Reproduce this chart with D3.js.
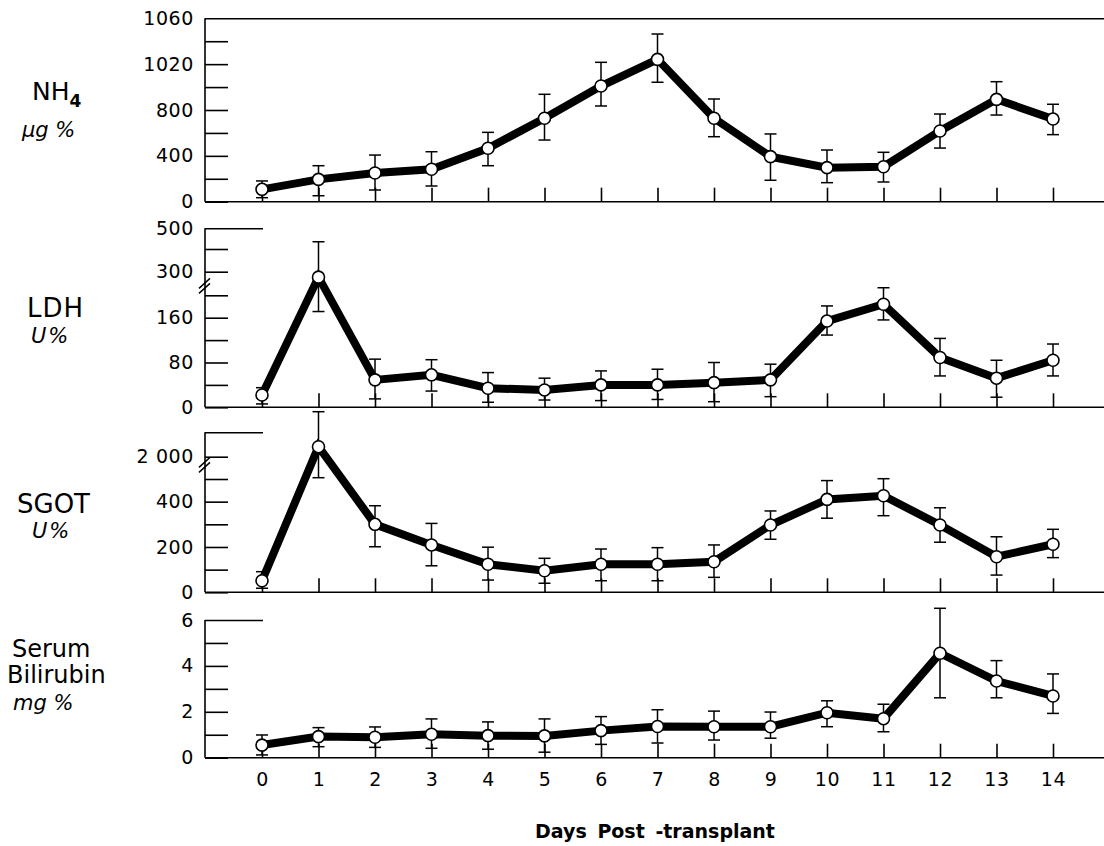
<!DOCTYPE html>
<html>
<head>
<meta charset="utf-8">
<script src="https://cdn.jsdelivr.net/npm/d3@7"></script>
<style>
  body { margin: 0; background: #fff; }
  svg { display: block; }
  .axis text { font-family: "DejaVu Sans", sans-serif; font-size: 19px; letter-spacing: 0.6px; fill: #000; }
  .axis line, .axis path { stroke: #000; stroke-width: 1.6px; }
  .lbl { font-family: "DejaVu Sans", sans-serif; fill: #000; }
</style>
</head>
<body>
<script>
// Days post-transplant
const days = [0, 1, 2, 3, 4, 5, 6, 7, 8, 9, 10, 11, 12, 13, 14];
const dayLabels = ["0", "1", "2", "3", "4", "5", "6", "7", "8", "9", "10", "11", "12", "13", "14"];

// NH4, µg %  (values in axis units, tick labels as printed)
const nh4Mean = [108, 195, 250, 283, 466, 728, 1009, 1242, 728, 393, 297, 305, 617, 893, 721];
const nh4Hi   = [181, 314, 407, 436, 605, 937, 1216, 1463, 896, 591, 451, 431, 765, 1047, 850];
const nh4Lo   = [35, 52, 102, 137, 314, 538, 835, 1042, 567, 187, 166, 172, 468, 756, 585];
const nh4Ticks  = [0, 200, 400, 600, 800, 1000, 1200, 1400, 1600];
const nh4Labels = ["0", "", "400", "", "800", "", "1020", "", "1060"];

// LDH, U %
const ldhMean = [22, 277, 49, 58, 34, 31, 40, 40, 44, 49, 154, 184, 89, 52, 84];
const ldhHi   = [35, 435, 86, 85, 62, 52, 65, 68, 80, 77, 181, 232, 123, 84, 113];
const ldhLo   = [6, 171, 15, 29, 9, 13, 12, 14, 10, 19, 129, 156, 56, 18, 56];
const ldhTicks  = [0, 40, 80, 120, 160, 200, 300, 400, 500];
const ldhLabels = ["0", "", "80", "", "160", "", "300", "", "500"];

// SGOT, U %
const sgotMean = [51, 2410, 300, 209, 124, 95, 124, 124, 135, 297, 410, 426, 297, 157, 212];
const sgotHi   = [91, 3844, 382, 304, 199, 150, 191, 197, 209, 359, 493, 520, 373, 245, 278];
const sgotLo   = [18, 587, 201, 117, 54, 40, 51, 51, 66, 234, 327, 338, 221, 76, 153];
const sgotTicks  = [0, 100, 200, 300, 400, 500, 2000, 3000];
const sgotLabels = ["0", "", "200", "", "400", "", "2 000", ""];

// Serum bilirubin, mg %
const bilMean = [0.55, 0.92, 0.89, 1.02, 0.96, 0.95, 1.18, 1.36, 1.35, 1.35, 1.96, 1.70, 4.55, 3.34, 2.69];
const bilHi   = [0.99, 1.31, 1.34, 1.69, 1.56, 1.69, 1.79, 2.09, 2.03, 1.99, 2.48, 2.33, 6.51, 4.23, 3.65];
const bilLo   = [0.12, 0.48, 0.45, 0.41, 0.37, 0.24, 0.58, 0.64, 0.77, 0.85, 1.35, 1.13, 2.61, 2.61, 1.93];
const bilTicks  = [0, 1, 2, 3, 4, 5, 6];
const bilLabels = ["0", "", "2", "", "4", "", "6"];

const W = 1104, H = 846;
const axisX = 205, rightEdge = 1104;

const svg = d3.select("body").append("svg")
    .attr("width", W)
    .attr("height", H);

const x = d3.scaleLinear().domain([0, 14]).range([262, 1053]);

const panels = [
  { mean: nh4Mean, hi: nh4Hi, lo: nh4Lo, ticks: nh4Ticks, labels: nh4Labels,
    y: d3.scaleLinear().domain([0, 1600]).range([201.7, 18.3]), topFull: true },
  { mean: ldhMean, hi: ldhHi, lo: ldhLo, ticks: ldhTicks, labels: ldhLabels,
    y: d3.scaleLinear().domain([0, 200, 300, 400, 500]).range([407.3, 295.3, 271.7, 249, 228.3]),
    breakAt: 240 },
  { mean: sgotMean, hi: sgotHi, lo: sgotLo, ticks: sgotTicks, labels: sgotLabels,
    y: d3.scaleLinear().domain([0, 500, 2000, 3000]).range([592.3, 479, 456.7, 432.3]),
    breakAt: 1450 },
  { mean: bilMean, hi: bilHi, lo: bilLo, ticks: bilTicks, labels: bilLabels,
    y: d3.scaleLinear().domain([0, 6]).range([757.7, 620]), xLabels: true }
];

panels.forEach(drawPanel);

function drawPanel(p) {
  const y = p.y;
  const base = y(0);
  const top = y(p.ticks[p.ticks.length - 1]);

  // y axis, ticks pointing inward
  const gy = svg.append("g")
      .attr("class", "axis")
      .attr("transform", `translate(${axisX},0)`)
      .call(d3.axisLeft(y)
        .tickValues(p.ticks)
        .tickSizeInner(-23)
        .tickSizeOuter(0)
        .tickPadding(11)
        .tickFormat((d, i) => p.labels[i]));
  gy.select(".domain").attr("d", `M0,${base}V${top}`);

  // top tick: long stub, or full-width frame line on the first panel
  gy.selectAll(".tick")
    .filter(d => d === p.ticks[p.ticks.length - 1])
    .select("line")
    .attr("x2", p.topFull ? rightEdge - axisX : 58);

  // axis break marks
  if (p.breakAt !== undefined) {
    const yb = y(p.breakAt);
    [-2.5, 2.5].forEach(off => {
      svg.append("line")
        .attr("x1", axisX - 6).attr("y1", yb + off + 5)
        .attr("x2", axisX + 5).attr("y2", yb + off - 5)
        .attr("stroke", "#000").attr("stroke-width", 1.4);
    });
  }

  // x axis baseline with upward ticks
  const gx = svg.append("g")
      .attr("class", "axis")
      .attr("transform", `translate(0,${base})`)
      .call(d3.axisBottom(x)
        .tickValues(days)
        .tickSizeInner(-14)
        .tickSizeOuter(0)
        .tickPadding(12)
        .tickFormat((d, i) => p.xLabels ? dayLabels[i] : ""));
  gx.select(".domain").attr("d", `M${axisX},0H${rightEdge}`);
  gx.selectAll(".tick text").attr("dy", "0.85em");

  // error bars
  const eb = svg.append("g").attr("stroke", "#000").attr("stroke-width", 1.5);
  days.forEach((d, i) => {
    const cx = x(d);
    eb.append("line").attr("x1", cx).attr("x2", cx).attr("y1", y(p.hi[i])).attr("y2", y(p.lo[i]));
    eb.append("line").attr("x1", cx - 6).attr("x2", cx + 6).attr("y1", y(p.hi[i])).attr("y2", y(p.hi[i]));
    eb.append("line").attr("x1", cx - 6).attr("x2", cx + 6).attr("y1", y(p.lo[i])).attr("y2", y(p.lo[i]));
  });

  // thick connecting line
  const line = d3.line()
      .x((d, i) => x(days[i]))
      .y(d => y(d));

  svg.append("path")
      .datum(p.mean)
      .attr("d", line)
      .attr("fill", "none")
      .attr("stroke", "#000")
      .attr("stroke-width", 8)
      .attr("stroke-linejoin", "miter");

  // open circles
  svg.append("g").selectAll("circle")
      .data(p.mean)
      .enter()
      .append("circle")
      .attr("cx", (d, i) => x(days[i]))
      .attr("cy", d => y(d))
      .attr("r", 6)
      .attr("fill", "#fff")
      .attr("stroke", "#000")
      .attr("stroke-width", 1.6);
}

// panel titles on the left
const nh = svg.append("text").attr("class", "lbl").attr("x", 32).attr("y", 100).style("font-size", "25px");
nh.append("tspan").text("NH");
nh.append("tspan").attr("dy", 7).style("font-size", "17px").style("font-weight", "bold").text("4");
svg.append("text").attr("class", "lbl").attr("x", 22).attr("y", 137)
    .style("font-size", "21px").style("font-style", "italic").text("µg %");

svg.append("text").attr("class", "lbl").attr("x", 27).attr("y", 317)
    .style("font-size", "26px").style("letter-spacing", "1px").text("LDH");
svg.append("text").attr("class", "lbl").attr("x", 31).attr("y", 343)
    .style("font-size", "21px").style("font-style", "italic").style("letter-spacing", "2px").text("U%");

svg.append("text").attr("class", "lbl").attr("x", 17).attr("y", 513)
    .style("font-size", "26px").text("SGOT");
svg.append("text").attr("class", "lbl").attr("x", 32).attr("y", 538)
    .style("font-size", "21px").style("font-style", "italic").style("letter-spacing", "2px").text("U%");

svg.append("text").attr("class", "lbl").attr("x", 12).attr("y", 657)
    .style("font-size", "24px").text("Serum");
svg.append("text").attr("class", "lbl").attr("x", 7).attr("y", 683)
    .style("font-size", "24px").text("Bilirubin");
svg.append("text").attr("class", "lbl").attr("x", 13).attr("y", 710)
    .style("font-size", "21px").style("font-style", "italic").text("mg %");

// x axis title
svg.append("text").attr("class", "lbl")
    .attr("x", 655).attr("y", 838)
    .attr("text-anchor", "middle")
    .style("font-size", "19px")
    .style("font-weight", "bold")
    .style("word-spacing", "4px")
    .text("Days Post -transplant");
</script>
</body>
</html>
